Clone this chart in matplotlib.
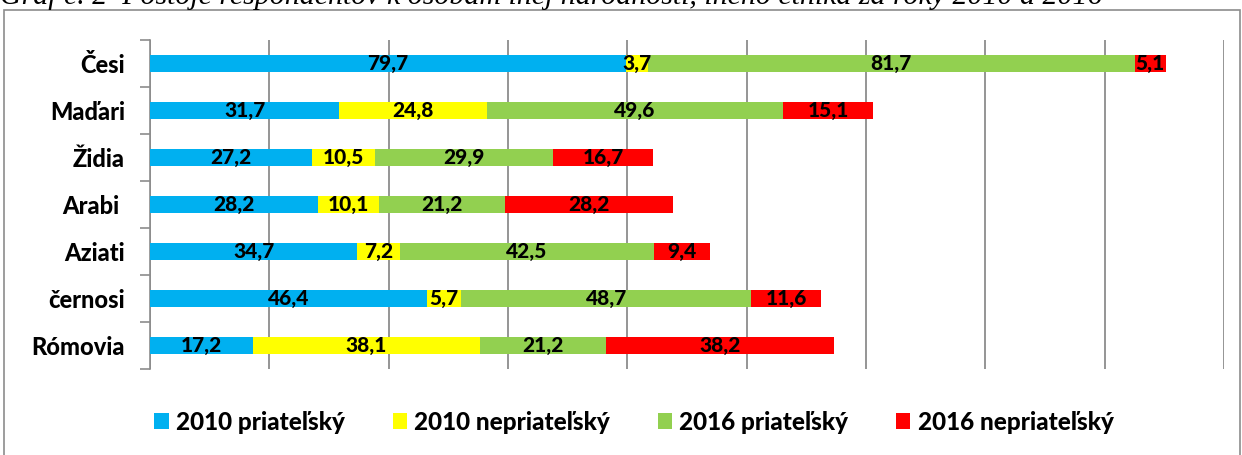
import numpy as np
import matplotlib.pyplot as plt
from matplotlib.patches import Rectangle

# údaje z grafu
kategorie = ['Česi', 'Maďari', 'Židia', 'Arabi ', 'Aziati', 'černosi', 'Rómovia']
priatelsky_2010 = [79.7, 31.7, 27.2, 28.2, 34.7, 46.4, 17.2]
nepriatelsky_2010 = [3.7, 24.8, 10.5, 10.1, 7.2, 5.7, 38.1]
priatelsky_2016 = [81.7, 49.6, 29.9, 21.2, 42.5, 48.7, 21.2]
nepriatelsky_2016 = [5.1, 15.1, 16.7, 28.2, 9.4, 11.6, 38.2]
serie_nazvy = ['2010 priateľský', '2010 nepriateľský', '2016 priateľský', '2016 nepriateľský']
farby = ['#00B0F0', '#FFFF00', '#92D050', '#FF0000']

plt.rcParams['font.family'] = ['Lato', 'DejaVu Sans']

fig = plt.figure(figsize=(12.42, 4.55), dpi=100)
W, H = 1242, 455

# rámček okolo grafu
fig.patches.append(Rectangle((4 / W, -0.1), 1236 / W, 1.1 - 10 / H, transform=fig.transFigure,
                             fill=False, edgecolor='#8c8c8c', linewidth=1.2))
# odrezaný nadpis nad grafom
fig.text(0, 1 + 3 / H, 'Graf č. 2  Postoje respondentov k osobám inej národnosti, iného etnika za roky 2010 a 2016',
         family='Liberation Serif', style='italic', fontsize=21.5, va='center', ha='left')

ax = fig.add_axes([150 / W, 1 - 369 / H, (1224 - 150) / W, (369 - 40) / H])

y = np.arange(len(kategorie))
data = [priatelsky_2010, nepriatelsky_2010, priatelsky_2016, nepriatelsky_2016]
left = np.zeros(len(kategorie))
for hodnoty, farba, nazov in zip(data, farby, serie_nazvy):
    hodnoty = np.array(hodnoty)
    bars = ax.barh(y, hodnoty, left=left, height=0.38, color=farba, label=nazov, zorder=3)
    for b, v in zip(bars, hodnoty):
        ax.text(b.get_x() + b.get_width() / 2, b.get_y() + b.get_height() / 2,
                f'{v:.1f}'.replace('.', ','), ha='center', va='center',
                fontsize=15, fontweight='black', color='black', zorder=4)
    left += hodnoty

ax.set_xlim(0, 180)
ax.set_ylim(len(kategorie) - 0.5, -0.5)
ax.set_xticks(np.arange(0, 181, 20))
ax.set_xticklabels([])
ax.tick_params(axis='x', length=0)
ax.grid(axis='x', color='#8c8c8c', linewidth=1.3, zorder=0)

ax.set_yticks(np.arange(-0.5, len(kategorie)), minor=False)
ax.set_yticklabels([])
ax.tick_params(axis='y', length=7, color='#8c8c8c', width=1.2)
ax.set_yticks(y, minor=True)
ax.set_yticklabels(kategorie, minor=True, fontsize=17, fontweight='black')
ax.tick_params(axis='y', which='minor', length=0, pad=18)

for s in ['top', 'right', 'bottom']:
    ax.spines[s].set_visible(False)
ax.spines['left'].set_color('#8c8c8c')
ax.spines['left'].set_linewidth(1.2)

leg = fig.legend(loc='center', bbox_to_anchor=(634 / W, 1 - 422 / H), ncol=4, frameon=False,
                 prop={'size': 17.5, 'weight': 'black'}, handlelength=0.6, handleheight=0.6,
                 handletextpad=0.3, columnspacing=1.95)

fig.savefig('out.png', dpi=100)
